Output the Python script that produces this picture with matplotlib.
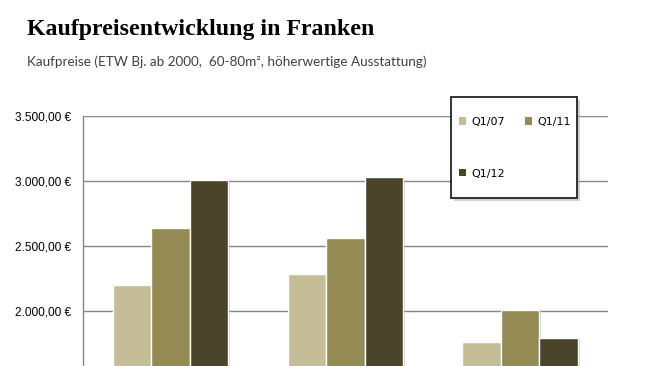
import matplotlib
matplotlib.use("Agg")
import matplotlib.pyplot as plt
import matplotlib.patheffects as pe
from matplotlib.patches import Rectangle, Patch
import numpy as np

# ---- data ----
series_names = ["Q1/07", "Q1/11", "Q1/12"]
q1_07 = [2200, 2285, 1762]
q1_11 = [2640, 2562, 2010]
q1_12 = [3010, 3033, 1792]
colors = ["#C4BD97", "#948A54", "#4A452A"]
yticks = [2000, 2500, 3000, 3500]
ytick_labels = ["2.000,00 €", "2.500,00 €", "3.000,00 €", "3.500,00 €"]
title = "Kaufpreisentwicklung in Franken"
subtitle = "Kaufpreise (ETW Bj. ab 2000,  60-80m², höherwertige Ausstattung)"

W, H = 650, 366
fig = plt.figure(figsize=(W / 100, H / 100), dpi=100)
fig.patch.set_facecolor("white")

ax = fig.add_axes([83.3 / W, 0.0, (607.5 - 83.3) / W, 1 - 116 / H])
x = np.arange(len(q1_07))
bw = 0.22
shadow = [pe.SimplePatchShadow(offset=(1.5, -1.0), shadow_rgbFace="#808080", alpha=0.35), pe.Normal()]
for i, (vals, c) in enumerate(zip([q1_07, q1_11, q1_12], colors)):
    ax.bar(x + (i - 1) * bw, vals, width=bw, color=c, edgecolor="white",
           linewidth=1.0, zorder=3, path_effects=shadow)

ax.set_xlim(-0.5, 2.5)
ax.set_ylim(1577, 3500)
ax.set_yticks(yticks)
ax.set_yticklabels(ytick_labels, fontfamily="Liberation Sans", fontsize=8.6)
ax.set_xticks([])
ax.tick_params(axis="y", length=0, pad=8.5)
ax.grid(axis="y", color="#868686", linewidth=1.0, zorder=0)
for s in ["top", "right", "bottom"]:
    ax.spines[s].set_visible(False)
ax.spines["left"].set_color("#868686")
ax.spines["left"].set_linewidth(1.0)

# legend box (frame drawn separately)
bx0, by0, bx1, by1 = 451, 97, 577, 198
fig.patches.append(Rectangle((bx0 / W + 3 / W, 1 - (by1 + 3) / H), (bx1 - bx0) / W, (by1 - by0) / H,
                             transform=fig.transFigure, facecolor="#b0b0b0", edgecolor="none",
                             alpha=0.6, zorder=4))
fig.patches.append(Rectangle((bx0 / W, 1 - by1 / H), (bx1 - bx0) / W, (by1 - by0) / H,
                             transform=fig.transFigure, facecolor="white", edgecolor="#222222",
                             linewidth=1.3, zorder=5))
handles = [Patch(facecolor=c, edgecolor="none") for c in colors]
order = [0, 2, 1]
leg = fig.legend([handles[i] for i in order], [series_names[i] for i in order],
                 loc="upper left", bbox_to_anchor=(459 / W, 1 - 117 / H), ncol=2,
                 frameon=False, prop={"family": "DejaVu Sans", "size": 8},
                 handlelength=0.65, handleheight=0.65, handletextpad=0.45,
                 columnspacing=1.8, labelspacing=3.75, borderpad=0, borderaxespad=0)
leg.set_zorder(6)

fig.text(27 / W, 1 - 35 / H, title, fontfamily="Liberation Serif", fontweight="bold",
         fontsize=17.2, va="baseline", ha="left", color="black")
fig.text(27 / W, 1 - 66.5 / H, subtitle, fontfamily="Lato", fontsize=9.7,
         va="baseline", ha="left", color="#404040")

fig.savefig("out.png", dpi=100, facecolor="white")
